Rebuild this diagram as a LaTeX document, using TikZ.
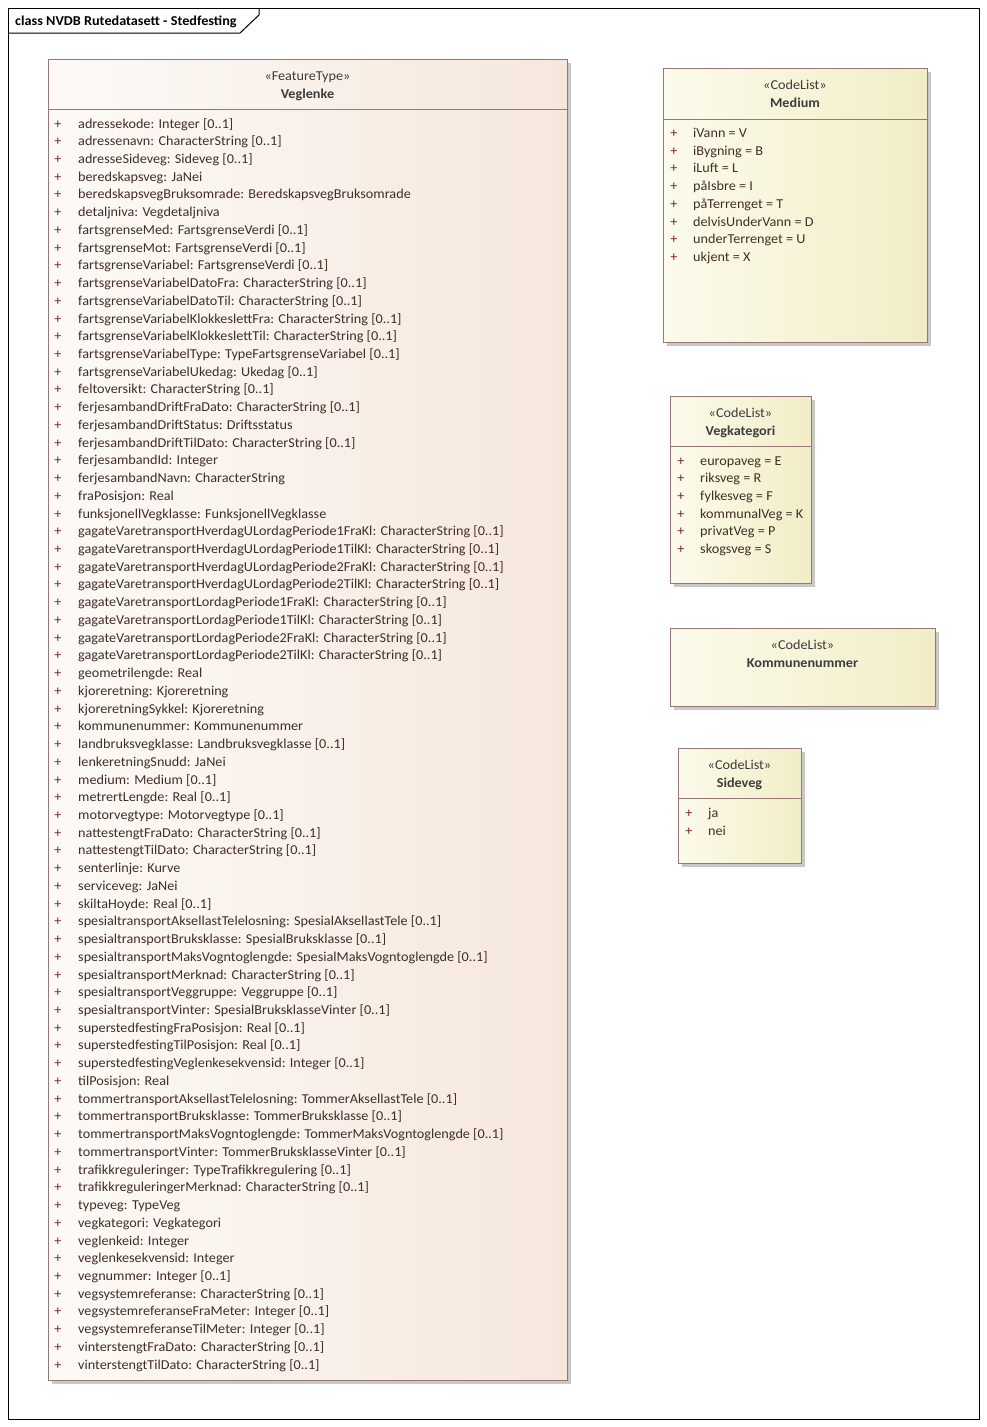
\documentclass[tikz,border=0pt]{standalone}
\usepackage{fontspec}
\setmainfont{Carlito}[FakeStretch=1.045]
\definecolor{bordc}{RGB}{150,118,118}
\definecolor{shadc}{RGB}{200,200,200}
\definecolor{txtc}{RGB}{66,46,40}
\definecolor{plusc}{RGB}{125,30,60}
\definecolor{headc}{RGB}{60,60,60}
\definecolor{ftL}{RGB}{253,250,247}
\definecolor{ftR}{RGB}{245,231,220}
\definecolor{clL}{RGB}{252,251,236}
\definecolor{clR}{RGB}{242,237,198}
\tikzset{
  txt/.style={inner sep=0pt, text=txtc, font=\fontsize{13.6}{16}\selectfont, anchor=base west},
  plussign/.style={inner sep=0pt, text=plusc, font=\fontsize{13.6}{16}\selectfont, anchor=base},
  stereo/.style={inner sep=0pt, text=headc, font=\fontsize{13.6}{16}\selectfont, anchor=base},
  cname/.style={inner sep=0pt, text=headc, font=\fontsize{13.6}{16}\selectfont\bfseries, anchor=base},
  boxline/.style={draw=bordc, line width=1pt},
  shadow/.style={fill=shadc},
  ftfill/.style={left color=ftL, right color=ftR},
  clfill/.style={left color=clL, right color=clR}
}
\begin{document}
\begin{tikzpicture}[x=1pt,y=-1pt]
\useasboundingbox (0,0) rectangle (987,1427);
\fill[white] (0,0) rectangle (987,1427);
% frame
\draw[black, line width=1pt] (8,8) rectangle (979,1419);
\draw[black, line width=1pt] (8,33) -- (240,33) -- (259,15) -- (259,8);
\node[inner sep=0pt, anchor=base west, font=\fontsize{13.6}{16}\selectfont\bfseries] (title) at (15,25) {class NVDB Rutedatasett - Stedfesting};

% ---------- Veglenke ----------
\fill[shadow] (52,63) rectangle (571,1384);
\shade[ftfill] (48,59) rectangle (567,1380);
\draw[boxline] (48,59) rectangle (567,1380);
\draw[boxline] (48,109) -- (567,109);
\node[stereo] (vst) at (307.5,80) {«FeatureType»};
\node[cname] (vnm) at (307.5,98) {Veglenke};
\foreach \t [count=\i] in {
{adressekode: Integer [0..1]},
{adressenavn: CharacterString [0..1]},
{adresseSideveg: Sideveg [0..1]},
{beredskapsveg: JaNei},
{beredskapsvegBruksomrade: BeredskapsvegBruksomrade},
{detaljniva: Vegdetaljniva},
{fartsgrenseMed: FartsgrenseVerdi [0..1]},
{fartsgrenseMot: FartsgrenseVerdi [0..1]},
{fartsgrenseVariabel: FartsgrenseVerdi [0..1]},
{fartsgrenseVariabelDatoFra: CharacterString [0..1]},
{fartsgrenseVariabelDatoTil: CharacterString [0..1]},
{fartsgrenseVariabelKlokkeslettFra: CharacterString [0..1]},
{fartsgrenseVariabelKlokkeslettTil: CharacterString [0..1]},
{fartsgrenseVariabelType: TypeFartsgrenseVariabel [0..1]},
{fartsgrenseVariabelUkedag: Ukedag [0..1]},
{feltoversikt: CharacterString [0..1]},
{ferjesambandDriftFraDato: CharacterString [0..1]},
{ferjesambandDriftStatus: Driftsstatus},
{ferjesambandDriftTilDato: CharacterString [0..1]},
{ferjesambandId: Integer},
{ferjesambandNavn: CharacterString},
{fraPosisjon: Real},
{funksjonellVegklasse: FunksjonellVegklasse},
{gagateVaretransportHverdagULordagPeriode1FraKl: CharacterString [0..1]},
{gagateVaretransportHverdagULordagPeriode1TilKl: CharacterString [0..1]},
{gagateVaretransportHverdagULordagPeriode2FraKl: CharacterString [0..1]},
{gagateVaretransportHverdagULordagPeriode2TilKl: CharacterString [0..1]},
{gagateVaretransportLordagPeriode1FraKl: CharacterString [0..1]},
{gagateVaretransportLordagPeriode1TilKl: CharacterString [0..1]},
{gagateVaretransportLordagPeriode2FraKl: CharacterString [0..1]},
{gagateVaretransportLordagPeriode2TilKl: CharacterString [0..1]},
{geometrilengde: Real},
{kjoreretning: Kjoreretning},
{kjoreretningSykkel: Kjoreretning},
{kommunenummer: Kommunenummer},
{landbruksvegklasse: Landbruksvegklasse [0..1]},
{lenkeretningSnudd: JaNei},
{medium: Medium [0..1]},
{metrertLengde: Real [0..1]},
{motorvegtype: Motorvegtype [0..1]},
{nattestengtFraDato: CharacterString [0..1]},
{nattestengtTilDato: CharacterString [0..1]},
{senterlinje: Kurve},
{serviceveg: JaNei},
{skiltaHoyde: Real [0..1]},
{spesialtransportAksellastTelelosning: SpesialAksellastTele [0..1]},
{spesialtransportBruksklasse: SpesialBruksklasse [0..1]},
{spesialtransportMaksVogntoglengde: SpesialMaksVogntoglengde [0..1]},
{spesialtransportMerknad: CharacterString [0..1]},
{spesialtransportVeggruppe: Veggruppe [0..1]},
{spesialtransportVinter: SpesialBruksklasseVinter [0..1]},
{superstedfestingFraPosisjon: Real [0..1]},
{superstedfestingTilPosisjon: Real [0..1]},
{superstedfestingVeglenkesekvensid: Integer [0..1]},
{tilPosisjon: Real},
{tommertransportAksellastTelelosning: TommerAksellastTele [0..1]},
{tommertransportBruksklasse: TommerBruksklasse [0..1]},
{tommertransportMaksVogntoglengde: TommerMaksVogntoglengde [0..1]},
{tommertransportVinter: TommerBruksklasseVinter [0..1]},
{trafikkreguleringer: TypeTrafikkregulering [0..1]},
{trafikkreguleringerMerknad: CharacterString [0..1]},
{typeveg: TypeVeg},
{vegkategori: Vegkategori},
{veglenkeid: Integer},
{veglenkesekvensid: Integer},
{vegnummer: Integer [0..1]},
{vegsystemreferanse: CharacterString [0..1]},
{vegsystemreferanseFraMeter: Integer [0..1]},
{vegsystemreferanseTilMeter: Integer [0..1]},
{vinterstengtFraDato: CharacterString [0..1]},
{vinterstengtTilDato: CharacterString [0..1]}
}{
  \node[plussign] (vp\i) at (58,{128+(\i-1)*17.73}) {+};
  \node[txt] (va\i) at (78,{128+(\i-1)*17.73}) {\t};
}

% ---------- Medium ----------
\fill[shadow] (667,72) rectangle (931,346);
\shade[clfill] (663,68) rectangle (927,342);
\draw[boxline] (663,68) rectangle (927,342);
\draw[boxline] (663,119) -- (927,119);
\node[stereo] (mst) at (795,89) {«CodeList»};
\node[cname] (mnm) at (795,107) {Medium};
\foreach \t [count=\i] in {{iVann = V},{iBygning = B},{iLuft = L},{påIsbre = I},{påTerrenget = T},{delvisUnderVann = D},{underTerrenget = U},{ukjent = X}}{
  \node[plussign] (mp\i) at (674,{137.5+(\i-1)*17.73}) {+};
  \node[txt] (ma\i) at (693,{137.5+(\i-1)*17.73}) {\t};
}

% ---------- Vegkategori ----------
\fill[shadow] (674,400) rectangle (815,587);
\shade[clfill] (670,396) rectangle (811,583);
\draw[boxline] (670,396) rectangle (811,583);
\draw[boxline] (670,446) -- (811,446);
\node[stereo] (kst) at (740.5,417) {«CodeList»};
\node[cname] (knm) at (740.5,435) {Vegkategori};
\foreach \t [count=\i] in {{europaveg = E},{riksveg = R},{fylkesveg = F},{kommunalVeg = K},{privatVeg = P},{skogsveg = S}}{
  \node[plussign] (kp\i) at (681,{465+(\i-1)*17.73}) {+};
  \node[txt] (ka\i) at (700,{465+(\i-1)*17.73}) {\t};
}

% ---------- Kommunenummer ----------
\fill[shadow] (674,632) rectangle (939,710);
\shade[clfill] (670,628) rectangle (935,706);
\draw[boxline] (670,628) rectangle (935,706);
\node[stereo] (nst) at (802.5,649) {«CodeList»};
\node[cname] (nnm) at (802.5,667) {Kommunenummer};

% ---------- Sideveg ----------
\fill[shadow] (682,752) rectangle (805,867);
\shade[clfill] (678,748) rectangle (801,863);
\draw[boxline] (678,748) rectangle (801,863);
\draw[boxline] (678,798) -- (801,798);
\node[stereo] (sst) at (739.5,769) {«CodeList»};
\node[cname] (snm) at (739.5,787) {Sideveg};
\node[plussign] (sp1) at (689,817) {+};
\node[txt] (sa1) at (708,817) {ja};
\node[plussign] (sp2) at (689,835) {+};
\node[txt] (sa2) at (708,835) {nei};
\end{tikzpicture}
\end{document}
